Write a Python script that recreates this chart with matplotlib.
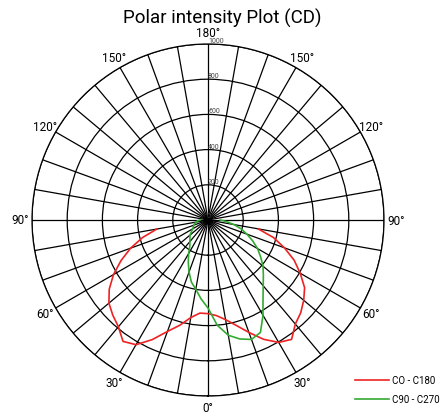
import numpy as np
import matplotlib
matplotlib.use("Agg")
import matplotlib.pyplot as plt

plt.rcParams['font.family'] = ['Liberation Sans Narrow', 'Roboto', 'DejaVu Sans']

# gamma angles (deg), 0 = straight down
red_angles = [-80, -75, -70, -65, -60, -55, -50, -45, -40, -35, -30, -25, -20, -15, -10, -5,
              0, 5, 10, 15, 20, 25, 30, 35, 40, 45, 50, 55, 60, 65, 70, 75, 80]
red_cd = [295, 385, 468, 545, 620, 685, 735, 765, 792, 842, 818, 750, 674, 619, 563, 531,
          532, 545, 575, 620, 680, 748, 803, 828, 772, 745, 710, 670, 605, 540, 462, 385, 290]

green_angles = [-90, -85, -80, -75, -70, -65, -60, -55, -50, -45, -40, -35, -30, -25, -20, -15, -10, -5,
                0, 5, 10, 15, 20, 25, 30, 35, 40, 45, 50, 55, 60, 65, 70, 75, 80, 85, 90]
green_cd = [45, 60, 70, 78, 85, 92, 100, 115, 133, 145, 160, 180, 220, 265, 315, 365, 400, 450,
            500, 600, 665, 700, 722, 705, 625, 545, 488, 445, 408, 365, 325, 280, 235, 195, 150, 105, 70]

r_ticks = [0, 200, 400, 600, 800, 1000]
legend_labels = ["CO - C180", "C90 - C270"]

fig = plt.figure(figsize=(4.48, 4.14), dpi=100)
ax = fig.add_axes([32 / 448, 17 / 414, 352 / 448, 352 / 414], projection='polar')
ax.set_theta_zero_location('S')
ax.set_theta_direction(1)

ax.plot(np.radians(red_angles), red_cd, color='#ee2222', lw=1.2, label=legend_labels[0])
ax.plot(np.radians(green_angles), green_cd, color='#33aa33', lw=1.2, label=legend_labels[1])

ax.set_ylim(0, 1000)
ax.set_rgrids(r_ticks[1:], labels=[str(v) for v in r_ticks[1:]], angle=180,
              fontsize=5, color='#444444')
ax.text(np.radians(180 - 12), 28, "0", fontsize=5, color='#444444', ha='center', va='center')
ax.set_rlabel_position(180)

thetas = np.arange(0, 360, 10)
labels = []
for t in thetas:
    if t % 30 == 0:
        v = t if t <= 180 else 360 - t
        labels.append(f"{v}°")
    else:
        labels.append("")
ax.set_thetagrids(thetas, labels=labels, fontsize=8.5)
ax.tick_params(axis='x', pad=-2)

ax.grid(True, color='black', lw=0.9)
ax.spines['polar'].set_color('black')
ax.spines['polar'].set_linewidth(0.9)

fig.text(222 / 448, 1 - 18 / 414, "Polar intensity Plot (CD)", fontsize=13.5,
         ha='center', va='center')

fig.legend(loc='lower right', bbox_to_anchor=(1.0, 0.0), frameon=False, fontsize=7,
           handlelength=3.5, handletextpad=0.3, labelspacing=0.9)

fig.savefig("out.png", dpi=100)
